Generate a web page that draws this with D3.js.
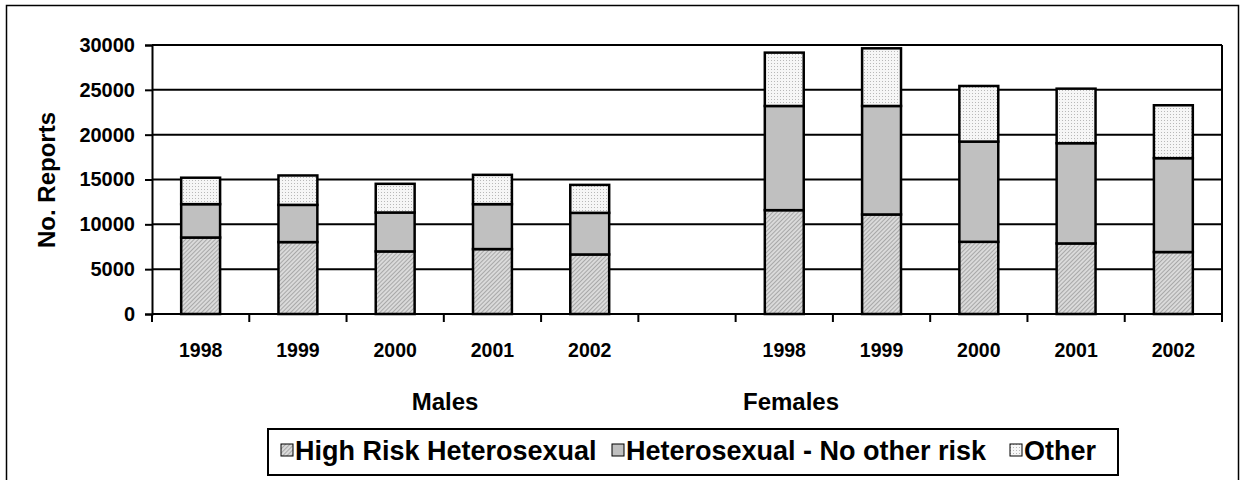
<!DOCTYPE html>
<html><head><meta charset="utf-8">
<script src="https://cdn.jsdelivr.net/npm/d3@7"></script>
<style>body{margin:0;background:#fff}svg{display:block;font-family:"Liberation Sans",Arial,sans-serif;font-weight:bold}</style>
</head><body>
<svg id="c" width="1243" height="480"></svg>
<script>
const categories = ["M1998","M1999","M2000","M2001","M2002","gap","F1998","F1999","F2000","F2001","F2002"];
const tickLabels = ["1998","1999","2000","2001","2002","","1998","1999","2000","2001","2002"];
const groupLabels = ["Males","Females"];
const seriesNames = ["High Risk Heterosexual","Heterosexual - No other risk","Other"];
const highRisk = [8530,8020,6980,7240,6640,0,11580,11100,8050,7870,6910];
const hetNoRisk = [3720,4150,4340,5010,4640,0,11620,12100,11180,11180,10470];
const other = [2950,3280,3200,3270,3120,0,5950,6430,6200,6080,5900];
const yTicks = [0,5000,10000,15000,20000,25000,30000];

(function(){
const svg = d3.select("#c");
const defs = svg.append("defs");
const p1 = defs.append("pattern").attr("id","hatch").attr("width",3).attr("height",3).attr("patternUnits","userSpaceOnUse").attr("patternTransform","rotate(45)");
p1.append("rect").attr("width",3).attr("height",3).attr("fill","#dadada");
p1.append("rect").attr("width",1).attr("height",3).attr("fill","#a8a8a8");
const p2 = defs.append("pattern").attr("id","dots").attr("width",3).attr("height",3).attr("patternUnits","userSpaceOnUse");
p2.append("rect").attr("width",3).attr("height",3).attr("fill","#f6f6f6");
p2.append("rect").attr("width",1).attr("height",1).attr("fill","#b8b8b8");
const fills = ["url(#hatch)","#c0c0c0","url(#dots)"];

svg.append("rect").attr("x",6.5).attr("y",5.5).attr("width",1232).attr("height",480).attr("fill","none").attr("stroke","#000").attr("stroke-width",1.5);

const pL=152, pR=1222, pT=45, pB=314;
const x = d3.scaleBand().domain(categories).range([pL,pR]).paddingInner(0.6).paddingOuter(0.3);
const y = d3.scaleLinear().domain([0,30000]).range([pB,pT]);

svg.append("g").selectAll("line").data(yTicks.slice(1)).join("line")
  .attr("x1",pL).attr("x2",pR).attr("y1",d=>y(d)).attr("y2",d=>y(d))
  .attr("stroke","#000").attr("stroke-width",2);
svg.append("line").attr("x1",pR).attr("x2",pR).attr("y1",pT).attr("y2",pB).attr("stroke","#000").attr("stroke-width",2);

const yAxis = d3.axisLeft(y).tickValues(yTicks).tickSize(7).tickFormat(d3.format("d"));
const ya = svg.append("g").attr("transform",`translate(${pL},0)`).call(yAxis);
ya.select(".domain").attr("stroke","#000").attr("stroke-width",2);
ya.selectAll(".tick line").attr("stroke","#000").attr("stroke-width",2);
ya.selectAll(".tick text").attr("font-size",20).attr("font-weight","bold").attr("fill","#000").attr("x",-17).attr("font-family","Liberation Sans, Arial, sans-serif");

const xa = svg.append("g");
xa.append("line").attr("x1",pL).attr("x2",pR).attr("y1",pB).attr("y2",pB).attr("stroke","#000").attr("stroke-width",2);
const gapW = (x.step()-x.bandwidth())/2;
const bounds = categories.map(c=>x(c)-gapW).concat([pR]);
xa.selectAll("line.t").data(bounds).join("line").attr("class","t")
  .attr("x1",d=>d).attr("x2",d=>d).attr("y1",pB).attr("y2",pB+8).attr("stroke","#000").attr("stroke-width",2);
xa.selectAll("text").data(categories).join("text")
  .attr("x",c=>x(c)+x.bandwidth()/2).attr("y",357).attr("text-anchor","middle").attr("font-size",19.5)
  .text((c,i)=>tickLabels[i]);

const rows = categories.map((c,i)=>({cat:c, s0:highRisk[i], s1:hetNoRisk[i], s2:other[i]}));
const stack = d3.stack().keys(["s0","s1","s2"])(rows);
svg.append("g").selectAll("g").data(stack).join("g").attr("fill",(d,i)=>fills[i])
  .selectAll("rect").data(d=>d.filter(v=>v.data.cat!=="gap")).join("rect")
  .attr("x",d=>x(d.data.cat)).attr("width",x.bandwidth())
  .attr("y",d=>y(d[1])).attr("height",d=>y(d[0])-y(d[1]))
  .attr("stroke","#000").attr("stroke-width",2.5);

svg.append("text").attr("transform","translate(55,180) rotate(-90)").attr("text-anchor","middle").attr("font-size",24).text("No. Reports");

svg.append("text").attr("x",445).attr("y",410).attr("text-anchor","middle").attr("font-size",24).text(groupLabels[0]);
svg.append("text").attr("x",791).attr("y",410).attr("text-anchor","middle").attr("font-size",24).text(groupLabels[1]);

svg.append("rect").attr("x",268).attr("y",429).attr("width",850).attr("height",46).attr("fill","#fff").attr("stroke","#000").attr("stroke-width",2);
const legX = [281,612,1010];
const lg = svg.append("g").selectAll("g").data(seriesNames).join("g").attr("transform",(d,i)=>`translate(${legX[i]},444)`);
lg.append("rect").attr("width",12).attr("height",12).attr("fill",(d,i)=>fills[i]).attr("stroke","#000").attr("stroke-width",1);
lg.append("text").attr("x",14).attr("y",16).attr("font-size",27).text(d=>d);
})();
</script>
</body></html>
